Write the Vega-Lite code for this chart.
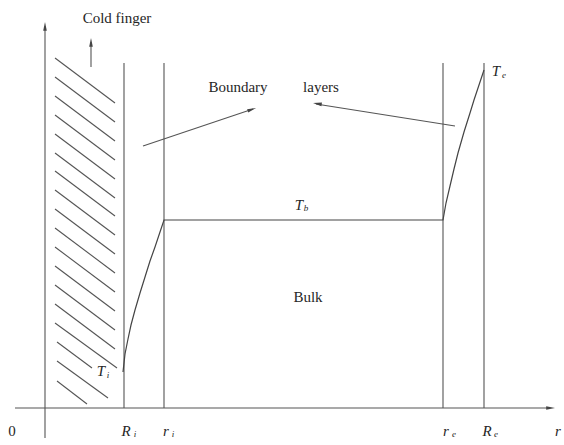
{
  "$schema": "https://vega.github.io/schema/vega-lite/v6.json",
  "autosize": {"type": "none"},
  "width": 564,
  "height": 445,
  "padding": 0,
  "background": "white",
  "config": {"view": {"stroke": null}},
  "datasets": {
    "segments": [
      {"x": -30, "y": 0, "x2": 505, "y2": 0},
      {"x": 0, "y": -30, "x2": 0, "y2": 382},
      {"x": 79, "y": 345, "x2": 79, "y2": 0},
      {"x": 119, "y": 345, "x2": 119, "y2": 0},
      {"x": 398, "y": 345, "x2": 398, "y2": 0},
      {"x": 439, "y": 345, "x2": 439, "y2": 0},
      {"x": 46, "y": 341, "x2": 46, "y2": 366},
      {"x": 98, "y": 262, "x2": 208, "y2": 299},
      {"x": 410, "y": 282, "x2": 271, "y2": 304},
      {"x": 10, "y": 350, "x2": 70, "y2": 305},
      {"x": 10, "y": 331, "x2": 70, "y2": 286},
      {"x": 10, "y": 312, "x2": 70, "y2": 267},
      {"x": 10, "y": 293, "x2": 70, "y2": 248},
      {"x": 10, "y": 274, "x2": 70, "y2": 229},
      {"x": 10, "y": 255, "x2": 70, "y2": 210},
      {"x": 10, "y": 237, "x2": 70, "y2": 192},
      {"x": 10, "y": 218, "x2": 70, "y2": 173},
      {"x": 10, "y": 199, "x2": 70, "y2": 154},
      {"x": 10, "y": 180, "x2": 70, "y2": 135},
      {"x": 10, "y": 161, "x2": 70, "y2": 116},
      {"x": 10, "y": 142, "x2": 70, "y2": 97},
      {"x": 10, "y": 123, "x2": 70, "y2": 78},
      {"x": 10, "y": 104, "x2": 70, "y2": 59},
      {"x": 10, "y": 85, "x2": 72, "y2": 40},
      {"x": 12, "y": 66, "x2": 47, "y2": 40},
      {"x": 12, "y": 47, "x2": 63, "y2": 10},
      {"x": 12, "y": 27, "x2": 42, "y2": 4}
    ],
    "profile": [
      {"x": 78, "y": 36},
      {"x": 80, "y": 54},
      {"x": 83, "y": 69},
      {"x": 86, "y": 83},
      {"x": 90, "y": 98},
      {"x": 95, "y": 115},
      {"x": 100, "y": 131},
      {"x": 105, "y": 147},
      {"x": 110, "y": 161},
      {"x": 115, "y": 176},
      {"x": 119, "y": 188},
      {"x": 398, "y": 188},
      {"x": 401, "y": 205},
      {"x": 405, "y": 222},
      {"x": 409, "y": 239},
      {"x": 413, "y": 255},
      {"x": 419, "y": 276},
      {"x": 425, "y": 295},
      {"x": 429, "y": 308},
      {"x": 433, "y": 320},
      {"x": 439, "y": 338}
    ],
    "heads": [
      {"x": 0, "y": 386, "angle": 0},
      {"x": 510, "y": 0, "angle": 90},
      {"x": 46, "y": 370, "angle": 0},
      {"x": 211, "y": 300, "angle": 71},
      {"x": 268, "y": 305, "angle": 279}
    ],
    "words": [
      {"x": 72, "y": 390, "label": "Cold finger"},
      {"x": 193, "y": 321, "label": "Boundary"},
      {"x": 276, "y": 321, "label": "layers"},
      {"x": 263, "y": 111, "label": "Bulk"},
      {"x": -33, "y": -23, "label": "0"}
    ],
    "symbols": [
      {"x": 56, "y": 37, "label": "T"},
      {"x": 451, "y": 337, "label": "T"},
      {"x": 254, "y": 203, "label": "T"},
      {"x": 81, "y": -23, "label": "R"},
      {"x": 121, "y": -23, "label": "r"},
      {"x": 401, "y": -23, "label": "r"},
      {"x": 442, "y": -23, "label": "R"},
      {"x": 513, "y": -23, "label": "r"}
    ],
    "subs": [
      {"x": 63, "y": 33, "label": "i"},
      {"x": 459, "y": 333, "label": "e"},
      {"x": 261, "y": 200, "label": "b"},
      {"x": 90, "y": -26, "label": "i"},
      {"x": 128, "y": -26, "label": "i"},
      {"x": 409, "y": -26, "label": "e"},
      {"x": 451, "y": -26, "label": "e"}
    ]
  },
  "encoding": {
    "x": {"field": "x", "type": "quantitative", "axis": null, "scale": {"domain": [-45, 519], "nice": false, "zero": false}},
    "y": {"field": "y", "type": "quantitative", "axis": null, "scale": {"domain": [-37, 408], "nice": false, "zero": false}}
  },
  "layer": [
    {
      "data": {"name": "segments"},
      "mark": {"type": "rule", "color": "#555555", "strokeWidth": 1.1},
      "encoding": {
        "x2": {"field": "x2"},
        "y2": {"field": "y2"}
      }
    },
    {
      "data": {"name": "profile"},
      "mark": {"type": "line", "color": "#444444", "strokeWidth": 1.2, "interpolate": "linear"},
      "encoding": {"order": {"field": "x", "type": "quantitative"}}
    },
    {
      "data": {"name": "heads"},
      "mark": {"type": "point", "filled": true, "color": "#444444", "opacity": 1, "shape": "M0,0L-0.45,2.2L0.45,2.2Z", "size": 64},
      "encoding": {"angle": {"field": "angle", "type": "quantitative", "scale": null}}
    },
    {
      "data": {"name": "words"},
      "mark": {"type": "text", "font": "Liberation Serif", "fontSize": 15, "color": "#262626", "baseline": "middle", "align": "center"},
      "encoding": {"text": {"field": "label"}}
    },
    {
      "data": {"name": "symbols"},
      "mark": {"type": "text", "font": "Liberation Serif", "fontSize": 15, "fontStyle": "italic", "color": "#262626", "baseline": "middle", "align": "center"},
      "encoding": {"text": {"field": "label"}}
    },
    {
      "data": {"name": "subs"},
      "mark": {"type": "text", "font": "Liberation Serif", "fontSize": 9, "fontStyle": "italic", "color": "#262626", "baseline": "middle", "align": "center"},
      "encoding": {"text": {"field": "label"}}
    }
  ]
}
